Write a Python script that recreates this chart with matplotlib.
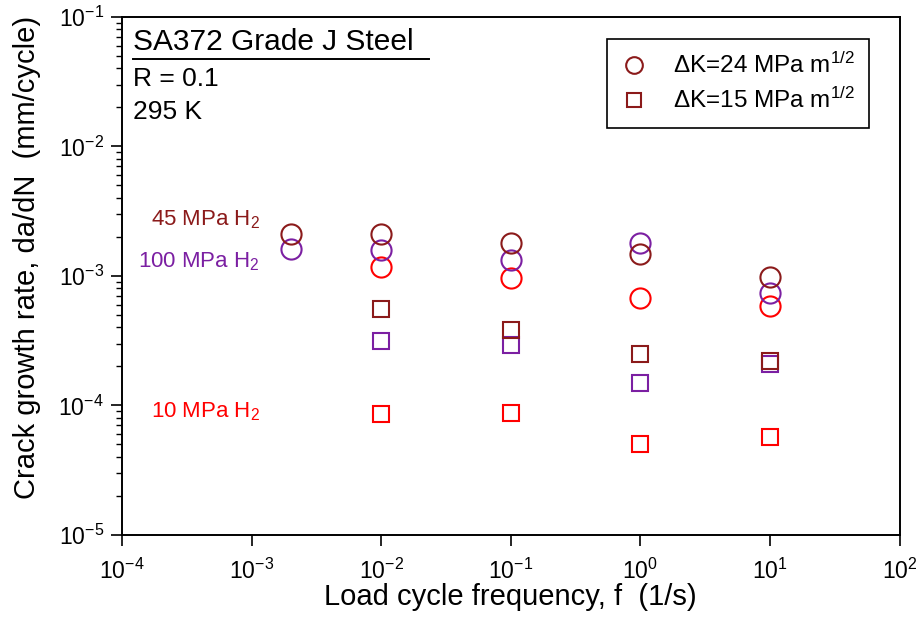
import matplotlib
matplotlib.use("Agg")
import matplotlib.pyplot as plt
from matplotlib.lines import Line2D
from matplotlib.ticker import FuncFormatter, NullLocator
import numpy as np

plt.rcParams['font.family'] = ['Liberation Sans', 'DejaVu Sans']
plt.rcParams['mathtext.fontset'] = 'custom'
plt.rcParams['mathtext.rm'] = 'Liberation Sans'
plt.rcParams['mathtext.it'] = 'Liberation Sans:italic'
plt.rcParams['mathtext.bf'] = 'Liberation Sans:bold'

# frequencies (1/s) and crack growth rates (mm/cycle)
freq_45_circ = [2e-3, 1e-2, 1e-1, 1, 10]
rate_45_circ = [2.09e-3, 2.09e-3, 1.79e-3, 1.48e-3, 9.8e-4]
freq_100_circ = [2e-3, 1e-2, 1e-1, 1, 10]
rate_100_circ = [1.6e-3, 1.58e-3, 1.33e-3, 1.80e-3, 7.4e-4]
freq_10_circ = [1e-2, 1e-1, 1, 10]
rate_10_circ = [1.18e-3, 9.6e-4, 6.8e-4, 5.82e-4]

freq_sq = [1e-2, 1e-1, 1, 10]
rate_45_sq = [5.5e-4, 3.85e-4, 2.48e-4, 2.21e-4]
rate_100_sq = [3.13e-4, 2.95e-4, 1.48e-4, 2.1e-4]
rate_10_sq = [8.57e-5, 8.7e-5, 5.0e-5, 5.66e-5]

c45 = '#8B1A1A'
c100 = '#7B1FA2'
c10 = '#FF0000'

fig = plt.figure(figsize=(9.17, 6.22), dpi=100)
ax = fig.add_axes([0.133, 0.140, 0.848, 0.833])

mkc = dict(marker='o', linestyle='none', markersize=14.5, markerfacecolor='none', markeredgewidth=1.5)
mks = dict(marker='s', linestyle='none', markersize=12, markerfacecolor='none', markeredgewidth=1.5)

ax.plot(freq_10_circ, rate_10_circ, color=c10, **mkc)
ax.plot(freq_100_circ, rate_100_circ, color=c100, **mkc)
ax.plot(freq_45_circ, rate_45_circ, color=c45, **mkc)
ax.plot(freq_sq, rate_10_sq, color=c10, **mks)
ax.plot(freq_sq, rate_100_sq, color=c100, **mks)
ax.plot(freq_sq, rate_45_sq, color=c45, **mks)

ax.set_xscale('log')
ax.set_yscale('log')
ax.set_xlim(1e-4, 1e2)
ax.set_ylim(1e-5, 1e-1)

def fmt(v, pos):
    e = int(round(np.log10(v)))
    return r'$10^{%d}$' % e

ax.xaxis.set_major_formatter(FuncFormatter(fmt))
ax.yaxis.set_major_formatter(FuncFormatter(fmt))
ax.xaxis.set_minor_locator(NullLocator())
ax.tick_params(axis='both', which='major', direction='out', length=8, width=1.2, labelsize=16.5)
ax.tick_params(axis='y', which='minor', direction='out', length=4.5, width=1.0)
ax.tick_params(axis='x', which='major', pad=9)
ax.tick_params(axis='y', which='major', pad=5)
for s in ax.spines.values():
    s.set_linewidth(1.4)

ax.set_xlabel('Load cycle frequency, f  (1/s)', fontsize=21)
ax.set_ylabel('Crack growth rate, da/dN  (mm/cycle)', fontsize=21)
ax.xaxis.set_label_coords(0.5, -0.092)
ax.yaxis.set_label_coords(-0.104, 0.535)

ax.text(0.014, 0.952, 'SA372 Grade J Steel', transform=ax.transAxes, fontsize=21.5, va='center', ha='left')
ax.add_line(Line2D([0.014, 0.395], [0.918, 0.918], transform=ax.transAxes, color='black', lw=1.4))
ax.text(0.014, 0.880, 'R = 0.1', transform=ax.transAxes, fontsize=19, va='center', ha='left')
ax.text(0.014, 0.817, '295 K', transform=ax.transAxes, fontsize=19, va='center', ha='left')

ax.text(0.177, 0.608, '45 MPa H$_2$', transform=ax.transAxes, fontsize=16, va='center', ha='right', color=c45)
ax.text(0.177, 0.527, '100 MPa H$_2$', transform=ax.transAxes, fontsize=16, va='center', ha='right', color=c100)
ax.text(0.177, 0.237, '10 MPa H$_2$', transform=ax.transAxes, fontsize=16, va='center', ha='right', color=c10)

handles = [
    Line2D([], [], color=c45, marker='o', linestyle='none', markersize=12, markerfacecolor='none', markeredgewidth=1.5),
    Line2D([], [], color=c45, marker='s', linestyle='none', markersize=10, markerfacecolor='none', markeredgewidth=1.5),
]
labels = [r'$\Delta$K=24 MPa m$^{1/2}$', r'$\Delta$K=15 MPa m$^{1/2}$']
leg = ax.legend(handles, labels, loc='upper right', bbox_to_anchor=(0.961, 0.958), fontsize=17.5,
                frameon=True, fancybox=False, edgecolor='black', framealpha=1,
                handlelength=1.0, handletextpad=1.1, borderpad=0.6, labelspacing=0.4,
                borderaxespad=0)
leg.get_frame().set_linewidth(1.2)

fig.savefig('out.png', dpi=100)
